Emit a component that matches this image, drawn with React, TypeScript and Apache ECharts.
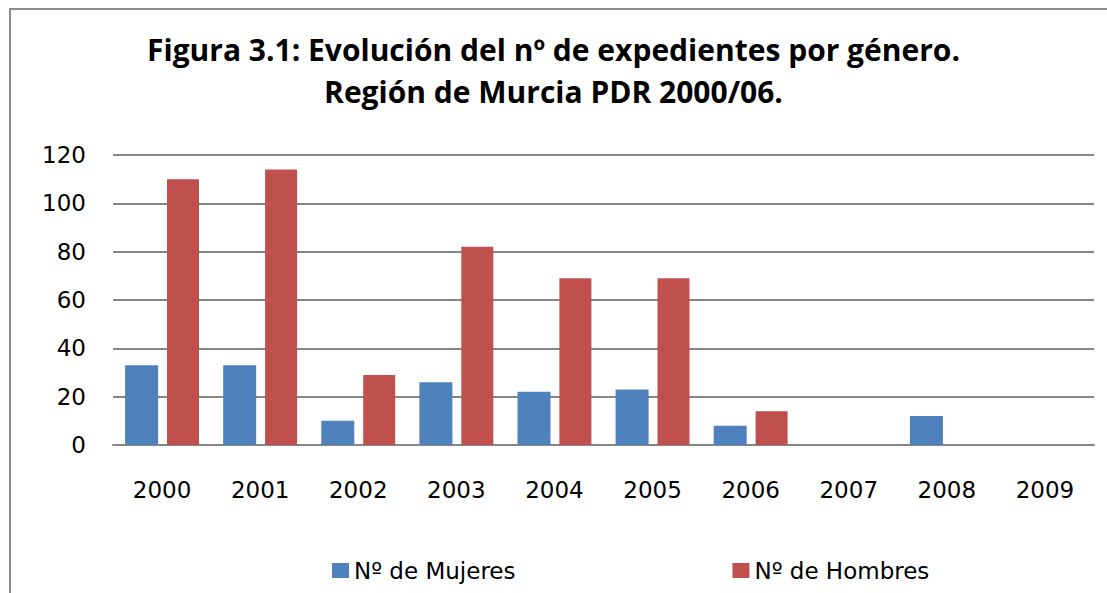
import React, { useEffect, useRef } from "react";
import * as echarts from "echarts";

const years = ["2000", "2001", "2002", "2003", "2004", "2005", "2006", "2007", "2008", "2009"];
const mujeres = [33, 33, 10, 26, 22, 23, 8, 0, 12, 0];
const hombres = [110, 114, 29, 82, 69, 69, 14, 0, 0, 0];
const yTicks = { min: 0, max: 120, interval: 20 };
const titleText = "Figura 3.1: Evolución del nº de expedientes por género.\nRegión de Murcia PDR 2000/06.";
const seriesNames = ["Nº de Mujeres", "Nº de Hombres"];

export default function App() {
  const ref = useRef<HTMLDivElement>(null);
  useEffect(() => {
    document.body.style.margin = "0";
    const chart = echarts.init(ref.current!, null, { renderer: "svg" });
    const font = "DejaVu Sans";
    chart.setOption({
      animation: false,
      backgroundColor: "#ffffff",
      title: {
        text: titleText,
        left: "center",
        top: 23,
        textStyle: {
          fontFamily: "Open Sans",
          fontWeight: "bold",
          fontSize: 30,
          lineHeight: 42,
          color: "#000000",
        },
      },
      graphic: [
        {
          type: "rect",
          shape: { x: 10, y: 9, width: 1200, height: 700 },
          style: { fill: "none", stroke: "#8c8c8c", lineWidth: 2 },
          silent: true,
        },
      ],
      legend: {
        data: seriesNames,
        left: 327,
        top: 554,
        itemWidth: 17,
        itemHeight: 15,
        itemGap: 217,
        icon: "rect",
        textStyle: { fontFamily: font, fontSize: 23, color: "#000000" },
      },
      grid: { left: 113, right: 13, top: 155, bottom: 148 },
      xAxis: {
        type: "category",
        data: years,
        axisLine: { show: true, lineStyle: { color: "#868686", width: 2 } },
        axisTick: { show: false },
        axisLabel: { fontFamily: font, fontSize: 23, color: "#000000", margin: 33 },
      },
      yAxis: {
        type: "value",
        min: yTicks.min,
        max: yTicks.max,
        interval: yTicks.interval,
        axisLine: { show: false },
        axisTick: { show: false },
        splitLine: { lineStyle: { color: "#868686", width: 2 } },
        axisLabel: { fontFamily: font, fontSize: 23, color: "#000000", margin: 27 },
      },
      series: [
        {
          name: seriesNames[0],
          type: "bar",
          data: mujeres,
          barWidth: 33,
          barGap: "27%",
          itemStyle: { color: "#4F81BD" },
        },
        {
          name: seriesNames[1],
          type: "bar",
          data: hombres,
          barWidth: 32,
          itemStyle: { color: "#C0504D" },
        },
      ],
    });
    return () => chart.dispose();
  }, []);
  return <div ref={ref} style={{ width: 1107, height: 593 }} />;
}
